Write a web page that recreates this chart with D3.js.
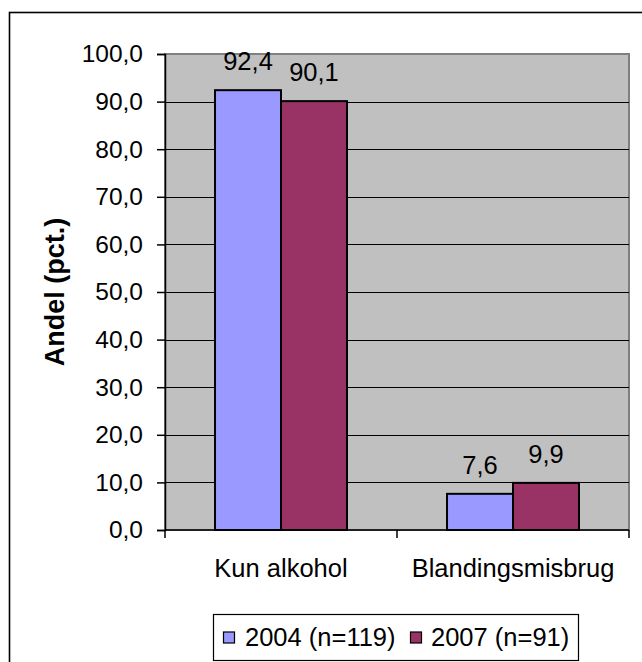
<!DOCTYPE html>
<html>
<head>
<meta charset="utf-8">
<script src="https://cdn.jsdelivr.net/npm/d3@7"></script>
<style>
  html, body { margin: 0; padding: 0; background: #fff; }
  svg { display: block; }
  text { font-family: "Liberation Sans", Arial, sans-serif; fill: #000; }
</style>
</head>
<body>
<svg id="chart" width="642" height="662"></svg>
<script>
// Andel (pct.) by misbrugstype, 2004 vs 2007
const categories = ["Kun alkohol", "Blandingsmisbrug"];
const seriesNames = ["2004 (n=119)", "2007 (n=91)"];
const values2004 = [92.4, 7.6];
const values2007 = [90.1, 9.9];
const yTicks = [0, 10, 20, 30, 40, 50, 60, 70, 80, 90, 100];
const yTitle = "Andel (pct.)";

const colors = ["#9999FF", "#993366"];
const seriesValues = [values2004, values2007];

const svg = d3.select("#chart");
const plot = { left: 165, top: 54, right: 629, bottom: 530 };
const fontSize = 25.5;
const tickFontSize = 24.5;
const fmt = v => d3.format(".1f")(v).replace(".", ",");

// outer chart frame
svg.append("rect")
  .attr("x", 9.5).attr("y", 12.5)
  .attr("width", 700).attr("height", 700)
  .attr("fill", "#fff").attr("stroke", "#000").attr("stroke-width", 1.6);

const y = d3.scaleLinear().domain([0, 100]).range([plot.bottom, plot.top]);
const x0 = d3.scaleBand().domain(categories).range([plot.left, plot.right]).padding(0);
const x1 = d3.scaleBand().domain(seriesNames).range([0, x0.bandwidth()])
  .paddingInner(0).paddingOuter(0.758);

// plot area background
svg.append("rect")
  .attr("x", plot.left).attr("y", plot.top)
  .attr("width", plot.right - plot.left).attr("height", plot.bottom - plot.top)
  .attr("fill", "#C0C0C0").attr("stroke", "#808080").attr("stroke-width", 2);

// horizontal gridlines
svg.append("g").selectAll("line")
  .data(yTicks.filter(t => t > 0 && t < 100))
  .join("line")
  .attr("x1", plot.left).attr("x2", plot.right)
  .attr("y1", d => Math.round(y(d)) + 0.5).attr("y2", d => Math.round(y(d)) + 0.5)
  .attr("stroke", "#000").attr("stroke-width", 1);

// bars
const groups = svg.append("g").selectAll("g")
  .data(categories)
  .join("g")
  .attr("transform", d => `translate(${x0(d)},0)`);

groups.selectAll("rect")
  .data((c, i) => seriesNames.map((s, k) => ({ s, k, v: seriesValues[k][i] })))
  .join("rect")
  .attr("x", d => x1(d.s))
  .attr("y", d => y(d.v))
  .attr("width", x1.bandwidth())
  .attr("height", d => y(0) - y(d.v))
  .attr("fill", d => colors[d.k])
  .attr("stroke", "#000").attr("stroke-width", 2);

// value labels
groups.selectAll("text")
  .data((c, i) => seriesNames.map((s, k) => ({ s, k, v: seriesValues[k][i] })))
  .join("text")
  .attr("x", d => x1(d.s) + x1.bandwidth() / 2)
  .attr("y", d => y(d.v) - 20)
  .attr("text-anchor", "middle")
  .attr("font-size", fontSize)
  .text(d => fmt(d.v));

// y axis
const yAxis = d3.axisLeft(y).tickValues(yTicks).tickSize(8).tickPadding(14)
  .tickFormat(fmt);
const gy = svg.append("g").attr("transform", `translate(${plot.left},0)`).call(yAxis);
gy.select(".domain").attr("stroke", "#000").attr("stroke-width", 1.5);
gy.selectAll(".tick line").attr("stroke", "#000").attr("stroke-width", 1.5);
gy.selectAll(".tick text")
  .attr("font-size", tickFontSize)
  .attr("font-family", "Liberation Sans, Arial, sans-serif")
  .attr("fill", "#000");

// x axis line with ticks between categories
svg.append("line")
  .attr("x1", plot.left).attr("x2", plot.right)
  .attr("y1", plot.bottom).attr("y2", plot.bottom)
  .attr("stroke", "#000").attr("stroke-width", 1.5);
const boundaries = [plot.left, ...categories.map(c => x0(c) + x0.bandwidth())];
svg.append("g").selectAll("line")
  .data(boundaries)
  .join("line")
  .attr("x1", d => d).attr("x2", d => d)
  .attr("y1", plot.bottom).attr("y2", plot.bottom + 8)
  .attr("stroke", "#000").attr("stroke-width", 1.5);

// category labels
svg.append("g").selectAll("text")
  .data(categories)
  .join("text")
  .attr("x", d => x0(d) + x0.bandwidth() / 2)
  .attr("y", 577)
  .attr("text-anchor", "middle")
  .attr("font-size", fontSize)
  .text(d => d);

// y axis title
svg.append("text")
  .attr("transform", `translate(64,${(plot.top + plot.bottom) / 2}) rotate(-90)`)
  .attr("text-anchor", "middle")
  .attr("font-size", 27)
  .attr("font-weight", "bold")
  .text(yTitle);

// legend
const legend = svg.append("g");
legend.append("rect")
  .attr("x", 213.5).attr("y", 614.5)
  .attr("width", 365).attr("height", 46)
  .attr("fill", "#fff").attr("stroke", "#000").attr("stroke-width", 1.2);
const legendItems = [
  { name: seriesNames[0], color: colors[0], sx: 223, tx: 245 },
  { name: seriesNames[1], color: colors[1], sx: 410, tx: 431 }
];
legendItems.forEach(it => {
  legend.append("rect")
    .attr("x", it.sx + 0.5).attr("y", 632)
    .attr("width", 11).attr("height", 11)
    .attr("fill", it.color).attr("stroke", "#000").attr("stroke-width", 1.2);
  legend.append("text")
    .attr("x", it.tx).attr("y", 646)
    .attr("font-size", fontSize)
    .text(it.name);
});
</script>
</body>
</html>
